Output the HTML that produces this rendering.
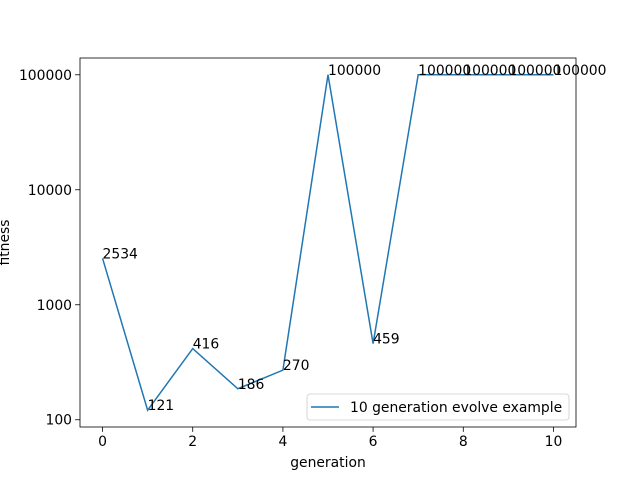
<!DOCTYPE html>
<html><head><meta charset="utf-8"><style>
body{margin:0;background:#fff}
svg{font-family:"DejaVu Sans","Liberation Sans",sans-serif}
</style></head><body>
<svg id="c" width="640" height="480" xmlns="http://www.w3.org/2000/svg"></svg>
<script>
const generations=[0,1,2,3,4,5,6,7,8,9,10];
const fitness=[2534,121,416,186,270,100000,459,100000,100000,100000,100000];
const xTicks=[0,2,4,6,8,10];
const yTicks=[100,1000,10000,100000];
const L=80,R=576,T=58,B=427,FS=13.9;
const xmin=-0.5,xmax=10.5;
const lmin=Math.log10(121),lmax=Math.log10(100000),lm=(lmax-lmin)*0.05;
const ylo=lmin-lm,yhi=lmax+lm;
const X=v=>L+(v-xmin)/(xmax-xmin)*(R-L);
const Y=v=>B-(Math.log10(v)-ylo)/(yhi-ylo)*(B-T);
const svg=document.getElementById('c');
const NS='http://www.w3.org/2000/svg';
function mk(tag,attrs,parent){const e=document.createElementNS(NS,tag);for(const k in attrs)e.setAttribute(k,attrs[k]);(parent||svg).appendChild(e);return e;}
const frame=mk('rect',{x:L,y:T,width:R-L,height:B-T,fill:'none',stroke:'#000','stroke-width':0.8});


xTicks.forEach(t=>{
  const l=mk('line',{x1:X(t),x2:X(t),y1:B,y2:B+4.9,stroke:'#000','stroke-width':0.8});
  
  
  const tx=mk('text',{x:X(t),y:B+19,'font-size':FS,'text-anchor':'middle'});tx.textContent=t;
  
  
});
yTicks.forEach(t=>{
  const l=mk('line',{x1:L-4.9,x2:L,y1:Y(t),y2:Y(t),stroke:'#000','stroke-width':0.8});
  
  
  const tx=mk('text',{x:L-8,y:Y(t)+5,'font-size':FS,'text-anchor':'end'});tx.textContent=t;
  
  
});
const xl=mk('text',{x:(L+R)/2,y:467,'font-size':FS,'text-anchor':'middle'});xl.textContent='generation';


const yl=mk('text',{x:9,y:(T+B)/2,'font-size':FS,'text-anchor':'middle',transform:`rotate(-90 9 ${(T+B)/2})`});yl.textContent='fitness';


const pts=generations.map((g,i)=>X(g)+','+Y(fitness[i])).join(' ');
const line=mk('polyline',{points:pts,fill:'none',stroke:'#1f77b4','stroke-width':1.5});


generations.forEach((g,i)=>{
  const tx=mk('text',{x:X(g),y:Y(fitness[i]),'font-size':FS});tx.textContent=fitness[i];
  
  
});
const lg=mk('g',{});


mk('rect',{x:307,y:394,width:262,height:26,rx:3,fill:'#fff','fill-opacity':0.8,stroke:'#ccc','stroke-width':0.8},lg);
mk('line',{x1:311,x2:339,y1:407,y2:407,stroke:'#1f77b4','stroke-width':1.5},lg);
const lt=mk('text',{x:350,y:412,'font-size':FS},lg);lt.textContent='10 generation evolve example';


</script>
</body></html>
